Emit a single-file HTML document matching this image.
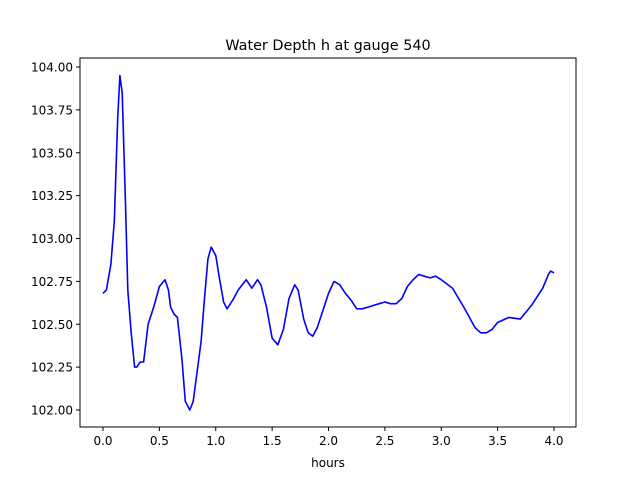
<!DOCTYPE html>
<html><head><meta charset="utf-8"><style>
body{margin:0;background:#fff;}
svg text{font-family:"DejaVu Sans","Liberation Sans",sans-serif;}
</style></head><body>
<svg id="chart" width="640" height="480" xmlns="http://www.w3.org/2000/svg">
<rect width="640" height="480" fill="#fff"/>
<text x="328" y="50" font-size="14.4" text-anchor="middle">Water Depth h at gauge 540</text>
<text x="328" y="467" font-size="12" text-anchor="middle">hours</text>
<g id="axes"></g>
</svg>
<script>
const xTicks=[0,0.5,1,1.5,2,2.5,3,3.5,4];
const xTickLabels=["0.0","0.5","1.0","1.5","2.0","2.5","3.0","3.5","4.0"];
const yTicks=[102,102.25,102.5,102.75,103,103.25,103.5,103.75,104];
const yTickLabels=["102.00","102.25","102.50","102.75","103.00","103.25","103.50","103.75","104.00"];
const hours=[0,0.03,0.07,0.1,0.13,0.15,0.17,0.2,0.22,0.25,0.28,0.3,0.33,0.36,0.4,0.45,0.5,0.55,0.58,0.6,0.63,0.66,0.7,0.73,0.77,0.8,0.83,0.87,0.9,0.93,0.96,1.0,1.03,1.07,1.1,1.15,1.2,1.27,1.32,1.37,1.4,1.45,1.5,1.55,1.6,1.65,1.7,1.73,1.78,1.82,1.86,1.9,1.95,2.0,2.05,2.1,2.15,2.2,2.25,2.3,2.35,2.4,2.45,2.5,2.55,2.6,2.65,2.7,2.75,2.8,2.85,2.9,2.95,3.0,3.1,3.2,3.3,3.35,3.4,3.45,3.5,3.6,3.7,3.8,3.9,3.95,3.97,4.0];
const depth=[102.68,102.7,102.85,103.1,103.7,103.95,103.85,103.2,102.7,102.45,102.25,102.25,102.28,102.28,102.5,102.6,102.72,102.76,102.7,102.6,102.56,102.54,102.3,102.05,102.0,102.05,102.2,102.4,102.65,102.88,102.95,102.9,102.78,102.63,102.59,102.64,102.7,102.76,102.71,102.76,102.73,102.6,102.42,102.38,102.47,102.65,102.73,102.7,102.53,102.45,102.43,102.48,102.58,102.68,102.75,102.73,102.68,102.64,102.59,102.59,102.6,102.61,102.62,102.63,102.62,102.62,102.65,102.72,102.76,102.79,102.78,102.77,102.78,102.76,102.71,102.6,102.48,102.45,102.45,102.47,102.51,102.54,102.53,102.61,102.71,102.79,102.81,102.8];
const L=80,R=576,T=58,B=427;
const xs=v=>103+v*(554-103)/4;
const ys=v=>410-(v-102)*(410-67)/2;
const NS="http://www.w3.org/2000/svg";
const g=document.getElementById('axes');
function mk(t,a){const e=document.createElementNS(NS,t);for(const k in a)e.setAttribute(k,a[k]);g.appendChild(e);return e;}
let d="";
hours.forEach((h,i)=>{d+=(i?"L":"M")+xs(h).toFixed(1)+","+ys(depth[i]).toFixed(1);});
const line=mk('path',{d:d,fill:"none",stroke:"#0000ff","stroke-width":1.6,"stroke-linejoin":"round"});


const frame=mk('rect',{x:L,y:T,width:R-L,height:B-T,fill:"none",stroke:"#000","stroke-width":1});


xTicks.forEach((v,i)=>{
 const x=xs(v);
 const t=mk('line',{x1:x,x2:x,y1:B,y2:B+4,stroke:"#000"});
 
 
 const l=mk('text',{x:x,y:B+18,"font-size":12,"text-anchor":"middle"});
 l.textContent=xTickLabels[i];
 
 
});
yTicks.forEach((v,i)=>{
 const y=ys(v);
 const t=mk('line',{x1:L-4,x2:L,y1:y,y2:y,stroke:"#000"});
 
 
 const l=mk('text',{x:L-7,y:y+4.5,"font-size":12,"text-anchor":"end"});
 l.textContent=yTickLabels[i];
 
 
});
</script>
</body></html>
